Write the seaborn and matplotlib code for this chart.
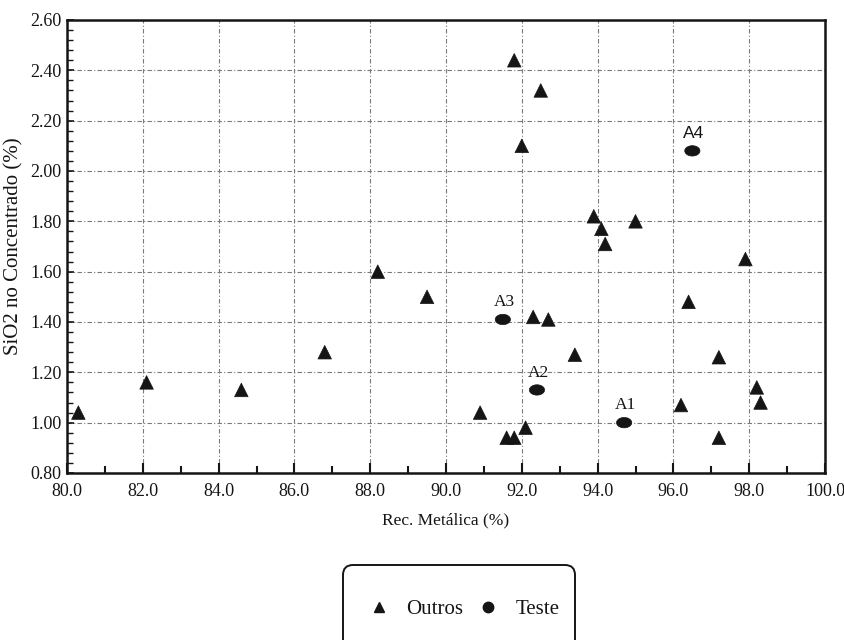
import numpy as np
import pandas as pd
import matplotlib
matplotlib.use("Agg")
import matplotlib.pyplot as plt
from matplotlib.lines import Line2D
from matplotlib.patches import FancyBboxPatch
from matplotlib.ticker import MultipleLocator, FormatStrFormatter
import seaborn as sns

# ---- data ----
outros_x = [80.3, 82.1, 84.6, 86.8, 88.2, 89.5, 91.8, 92.5, 92.0, 93.9, 94.1, 94.2,
            95.0, 97.9, 96.4, 92.3, 92.7, 93.4, 97.2, 98.2, 98.3, 96.2, 90.9, 92.1,
            91.6, 91.8, 97.2]
outros_y = [1.04, 1.16, 1.13, 1.28, 1.60, 1.50, 2.44, 2.32, 2.10, 1.82, 1.77, 1.71,
            1.80, 1.65, 1.48, 1.42, 1.41, 1.27, 1.26, 1.14, 1.08, 1.07, 1.04, 0.98,
            0.94, 0.94, 0.94]
teste_x = [94.7, 92.4, 91.5, 96.5]
teste_y = [1.00, 1.13, 1.41, 2.08]
teste_labels = ["A1", "A2", "A3", "A4"]
group_names = ["Outros", "Teste"]
x_label = "Rec. Metálica (%)"
y_label = "SiO2 no Concentrado (%)"

df = pd.DataFrame({
    "x": outros_x + teste_x,
    "y": outros_y + teste_y,
    "grupo": [group_names[0]] * len(outros_x) + [group_names[1]] * len(teste_x),
})

sns.set_theme(style="white")
plt.rcParams["font.family"] = ["Liberation Serif", "DejaVu Serif"]

INK = "#151515"
fig = plt.figure(figsize=(8.44, 6.4), dpi=100)
ax = fig.add_axes([67 / 844, 1 - 473 / 640, (825 - 67) / 844, (473 - 20) / 640])

# ellipse marker for "Teste" (scanned circles look slightly flattened)
t = np.linspace(0, 2 * np.pi, 60)
ellipse = list(zip(np.cos(t), 0.68 * np.sin(t)))

sns.scatterplot(data=df, x="x", y="y", hue="grupo", style="grupo", size="grupo",
                palette={"Outros": INK, "Teste": INK},
                markers={"Outros": "^", "Teste": ellipse},
                sizes={"Outros": 95, "Teste": 120},
                edgecolor=INK, linewidth=0.5, legend=False, ax=ax)

for xv, yv, lab in zip(teste_x, teste_y, teste_labels):
    fam = ["Liberation Sans", "DejaVu Sans"] if lab == "A4" else ["Liberation Serif", "DejaVu Serif"]
    ax.annotate(lab, (xv, yv), xytext=(1, 12.5), textcoords="offset points",
                ha="center", va="center", fontsize=12.5, color=INK, family=fam)

ax.set_xlim(80, 100)
ax.set_ylim(0.80, 2.60)
ax.xaxis.set_major_locator(MultipleLocator(2))
ax.xaxis.set_minor_locator(MultipleLocator(1))
ax.yaxis.set_major_locator(MultipleLocator(0.2))
ax.yaxis.set_minor_locator(MultipleLocator(0.04))
ax.xaxis.set_major_formatter(FormatStrFormatter("%.1f"))
ax.yaxis.set_major_formatter(FormatStrFormatter("%.2f"))

ax.tick_params(axis="both", which="both", direction="in", colors=INK,
               labelsize=13, top=False, right=False, bottom=True, left=True)
ax.tick_params(axis="x", which="major", length=7, width=1.5, pad=7)
ax.tick_params(axis="x", which="minor", length=5, width=1.5)
ax.tick_params(axis="y", which="major", length=5, width=1.2, pad=4)
ax.tick_params(axis="y", which="minor", length=4, width=1.0)

ax.grid(True, which="major", color="#7a7a7a", linestyle=(0, (4, 2, 1, 2)), linewidth=0.8)
for sp in ax.spines.values():
    sp.set_color(INK)
    sp.set_linewidth(1.8)

ax.set_xlabel(x_label, fontsize=12.5, color=INK, labelpad=9)
ax.set_ylabel(y_label, fontsize=15, color=INK, labelpad=5)

# legend: rounded box running off the bottom of the figure
box = FancyBboxPatch((343, -45), 232, 120, boxstyle="round,pad=0,rounding_size=10",
                     transform=None, facecolor="white", edgecolor=INK, linewidth=1.4)
fig.patches.append(box)

handles = [
    Line2D([], [], marker="^", linestyle="none", color=INK, markersize=7),
    Line2D([], [], marker="o", linestyle="none", color=INK, markersize=7.5),
]
leg = fig.legend(handles, group_names, loc="center", ncol=2,
                 bbox_to_anchor=(464 / 844, 1 - 609 / 640), fontsize=15,
                 frameon=False, borderpad=0, handlelength=1.0,
                 handletextpad=0.8, columnspacing=0.7)
for txt in leg.get_texts():
    txt.set_color(INK)

fig.savefig("out.png", dpi=100)
